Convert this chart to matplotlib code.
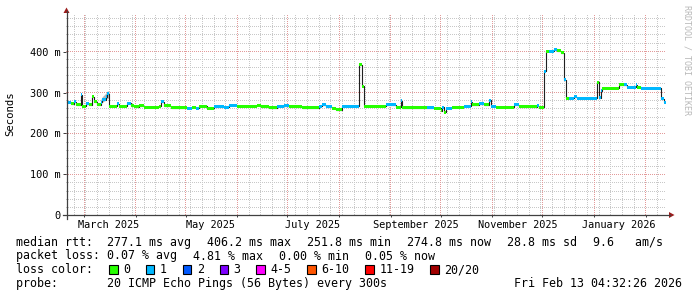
import numpy as np
import pandas as pd
import matplotlib
matplotlib.use("Agg")
import matplotlib.pyplot as plt
import matplotlib.dates as mdates
from matplotlib.colors import to_rgba
from matplotlib.transforms import Affine2D, blended_transform_factory
from matplotlib.patches import Polygon, Rectangle
from matplotlib.lines import Line2D

plt.rcParams['font.family'] = ['DejaVu Sans Mono']

# median rtt steps (start date, ms) and loss bucket (0 = no loss, 1 = 1/20)
seg_dates = ["2025-02-18 12:00", "2025-02-21", "2025-02-23", "2025-02-24", "2025-02-27",
             "2025-02-28", "2025-03-02", "2025-03-04", "2025-03-06", "2025-03-07",
             "2025-03-09", "2025-03-11", "2025-03-12", "2025-03-14", "2025-03-15",
             "2025-03-16", "2025-03-21", "2025-03-22", "2025-03-27", "2025-03-29",
             "2025-03-31", "2025-04-03", "2025-04-06", "2025-04-15", "2025-04-16",
             "2025-04-18", "2025-04-22", "2025-05-02", "2025-05-05", "2025-05-07",
             "2025-05-09", "2025-05-14", "2025-05-18", "2025-05-24", "2025-05-27",
             "2025-06-01", "2025-06-13", "2025-06-15", "2025-06-20", "2025-06-25",
             "2025-06-29", "2025-07-02", "2025-07-10", "2025-07-20", "2025-07-22",
             "2025-07-24", "2025-07-28", "2025-07-30", "2025-08-03", "2025-08-13",
             "2025-08-15", "2025-08-16", "2025-08-29", "2025-09-04", "2025-09-07",
             "2025-09-08", "2025-09-23", "2025-09-27", "2025-10-01", "2025-10-02",
             "2025-10-03", "2025-10-04", "2025-10-08", "2025-10-15", "2025-10-19",
             "2025-10-20", "2025-10-24", "2025-10-27", "2025-10-30", "2025-10-31",
             "2025-11-03", "2025-11-14", "2025-11-17", "2025-11-28", "2025-11-29",
             "2025-12-02", "2025-12-03", "2025-12-05", "2025-12-08", "2025-12-10",
             "2025-12-12", "2025-12-14", "2025-12-15", "2025-12-17", "2025-12-20",
             "2025-12-22", "2026-01-03", "2026-01-04", "2026-01-05", "2026-01-06",
             "2026-01-16", "2026-01-19", "2026-01-21", "2026-01-26", "2026-01-27",
             "2026-01-29", "2026-02-10", "2026-02-12"]
seg_median = [276, 272, 278, 270, 294, 266, 272, 270, 290, 277,
              270, 276, 282, 290, 297, 267, 273, 266, 274, 268,
              265, 268, 264, 266, 278, 268, 263, 262, 264, 262,
              266, 262, 265, 264, 269, 266, 269, 265, 263, 266,
              268, 265, 263, 266, 270, 265, 262, 258, 266, 368,
              315, 266, 270, 264, 280, 263, 263, 262, 255, 264,
              252, 262, 264, 266, 278, 270, 272, 270, 281, 266,
              264, 270, 265, 268, 264, 352, 401, 401, 406, 402,
              398, 331, 286, 286, 290, 286, 325, 287, 305, 311,
              319, 319, 313, 319, 313, 311, 285, 276]
seg_loss = [1, 0, 1, 0, 1, 0, 1, 0, 0, 0,
            0, 1, 1, 1, 1, 0, 1, 0, 1, 0,
            0, 0, 0, 0, 1, 0, 0, 1, 0, 1,
            0, 0, 1, 1, 1, 0, 0, 0, 0, 1,
            1, 0, 0, 1, 1, 1, 0, 0, 1, 0,
            0, 0, 1, 0, 1, 0, 1, 0, 0, 1,
            0, 1, 0, 1, 1, 0, 1, 0, 1, 1,
            0, 1, 0, 1, 0, 1, 0, 1, 1, 0,
            0, 1, 0, 1, 1, 1, 0, 1, 1, 0,
            0, 1, 1, 1, 0, 1, 1, 1]
now = pd.Timestamp("2026-02-13 04:32:26")

# smoke (ping spread) visible only around mid March
smoke_dates = ["2025-03-11", "2025-03-12", "2025-03-14", "2025-03-15", "2025-03-16"]
smoke_lo = [272, 276, 282, 286, 286]
smoke_hi = [282, 290, 298, 304, 304]

loss_labels = ["0", "1", "2", "3", "4-5", "6-10", "11-19", "20/20"]
loss_colors = ["#26ff00", "#00b8ff", "#0059ff", "#7e00ff", "#ff00ff", "#ff5500", "#ff0000", "#a10000"]

month_labels = ["March 2025", "May 2025", "July 2025", "September 2025", "November 2025", "January 2026"]
label_dates = ["2025-03-16", "2025-05-16", "2025-07-16", "2025-09-16", "2025-11-16", "2026-01-16"]
ytick_vals = [0, 100, 200, 300, 400]
ytick_labels = ["0", "100 m", "200 m", "300 m", "400 m"]

W, H = 697, 297
PW, PH = 600, 200
YMAX = 490
fig = plt.figure(figsize=(W / 100, H / 100), dpi=100)
px = Affine2D().scale(1 / W, -1 / H).translate(0, 1) + fig.transFigure
ax = fig.add_axes([66 / W, 82 / H, PW / W, PH / H])

t = pd.to_datetime(seg_dates, format="mixed")
t_end = list(t[1:]) + [now]
x0, x1 = now - pd.Timedelta(days=360), now
ax.set_xlim(x0, x1)
ax.set_ylim(0, YMAX)

# grid as a 1px dotted raster, like rrdtool
grid = np.zeros((PH, PW, 4))
def col_of(d):
    return int((d - x0) / (x1 - x0) * PW)
def row_of(v):
    return int(round(PH - v * PH / YMAX))
minor_c, major_c = to_rgba("#c8c8c8"), to_rgba("#e39a9a")
for d in pd.date_range("2025-02-16", now, freq="7D"):
    c = col_of(d)
    if 0 <= c < PW:
        grid[1::2, c] = minor_c
for v in range(20, YMAX, 20):
    grid[row_of(v), ::2] = minor_c
for d in pd.date_range("2025-03-01", now, freq="MS"):
    c = col_of(d)
    if 0 <= c < PW:
        grid[1::2, c] = major_c
for v in ytick_vals[1:]:
    grid[row_of(v), ::2] = major_c
ax.imshow(grid, extent=(mdates.date2num(x0), mdates.date2num(x1), 0, YMAX),
          aspect="auto", interpolation="nearest", zorder=0)

# smoke
ax.fill_between(pd.to_datetime(smoke_dates), smoke_lo, smoke_hi, color="#b8b8b8", lw=0, zorder=1)

# median line + loss coloured band
ax.step(list(t) + [now], seg_median + [seg_median[-1]], where="post", color="#202020", lw=0.8, zorder=2)
half = 1.5 * YMAX / PH
for a, b, m, l in zip(t, t_end, seg_median, seg_loss):
    ax.fill_between([a, b], m - half, m + half, color=loss_colors[l], lw=0, zorder=3)

# axes / ticks
for s in ax.spines.values():
    s.set_visible(False)
ax.set_yticks(ytick_vals, ytick_labels)
ax.tick_params(axis="y", length=2.5, width=0.72, pad=1.5, labelsize=7.35, color="#404040")
ax.set_xticks(pd.date_range("2025-03-01", now, freq="MS"))
ax.set_xticklabels([])
ax.tick_params(axis="x", length=1.5, width=0.72, color="#404040")
xt = blended_transform_factory(ax.transData, px)
for lab, d in zip(month_labels, label_dates):
    ax.text(pd.Timestamp(d), 228.3, lab, transform=xt, ha="center", va="baseline", fontsize=7.35)

axis_c = "#404040"
fig.add_artist(Line2D([66.5, 66.5], [219, 11], transform=px, color=axis_c, lw=0.9))
fig.add_artist(Line2D([63, 670], [215, 215], transform=px, color=axis_c, lw=0.9))
arrow_c = "#9b1c1c"
fig.add_artist(Polygon([[66.5, 7.5], [63.5, 13], [69.5, 13]], closed=True, transform=px, color=arrow_c, lw=0))
fig.add_artist(Polygon([[674.5, 215], [669, 212], [669, 218]], closed=True, transform=px, color=arrow_c, lw=0))

fig.text(10, 114, "Seconds", transform=px, rotation=90, ha="center", va="center", fontsize=7.7)
fig.text(687.5, 5, "RRDTOOL / TOBI OETIKER", transform=px, rotation=270, ha="center", va="top",
         fontsize=6, color="#b8b8b8")

# legend
cw, gap, fs = 7.02, 15.8, 8.4
line1 = ["median rtt:  277.1 ms avg", "406.2 ms max", "251.8 ms min", "274.8 ms now", "28.8 ms sd", "9.6   am/s"]
line2 = ["packet loss: 0.07 % avg", "4.81 % max", "0.00 % min", "0.05 % now"]
for items, yb in ((line1, 245.6), (line2, 259.5)):
    x = 16
    for s in items:
        fig.text(x, yb, s, transform=px, va="baseline", fontsize=fs)
        x += len(s) * cw + gap

x = 16
fig.text(x, 273.4, "loss color:", transform=px, va="baseline", fontsize=fs)
x += 11 * cw + gap
for lab, c in zip(loss_labels, loss_colors):
    fig.add_artist(Rectangle((x, 265), 8.5, 8.5, transform=px, facecolor=c, edgecolor="black", lw=0.8))
    fig.text(x + 2 * cw, 273.4, lab, transform=px, va="baseline", fontsize=fs)
    x += (len(lab) + 2) * cw + gap

fig.text(16, 287.3, "probe:       20 ICMP Echo Pings (56 Bytes) every 300s", transform=px, va="baseline", fontsize=fs)
fig.text(681.5, 287.3, "Fri Feb 13 04:32:26 2026", transform=px, ha="right", va="baseline", fontsize=fs)

fig.savefig("out.png", dpi=100, facecolor="white")
